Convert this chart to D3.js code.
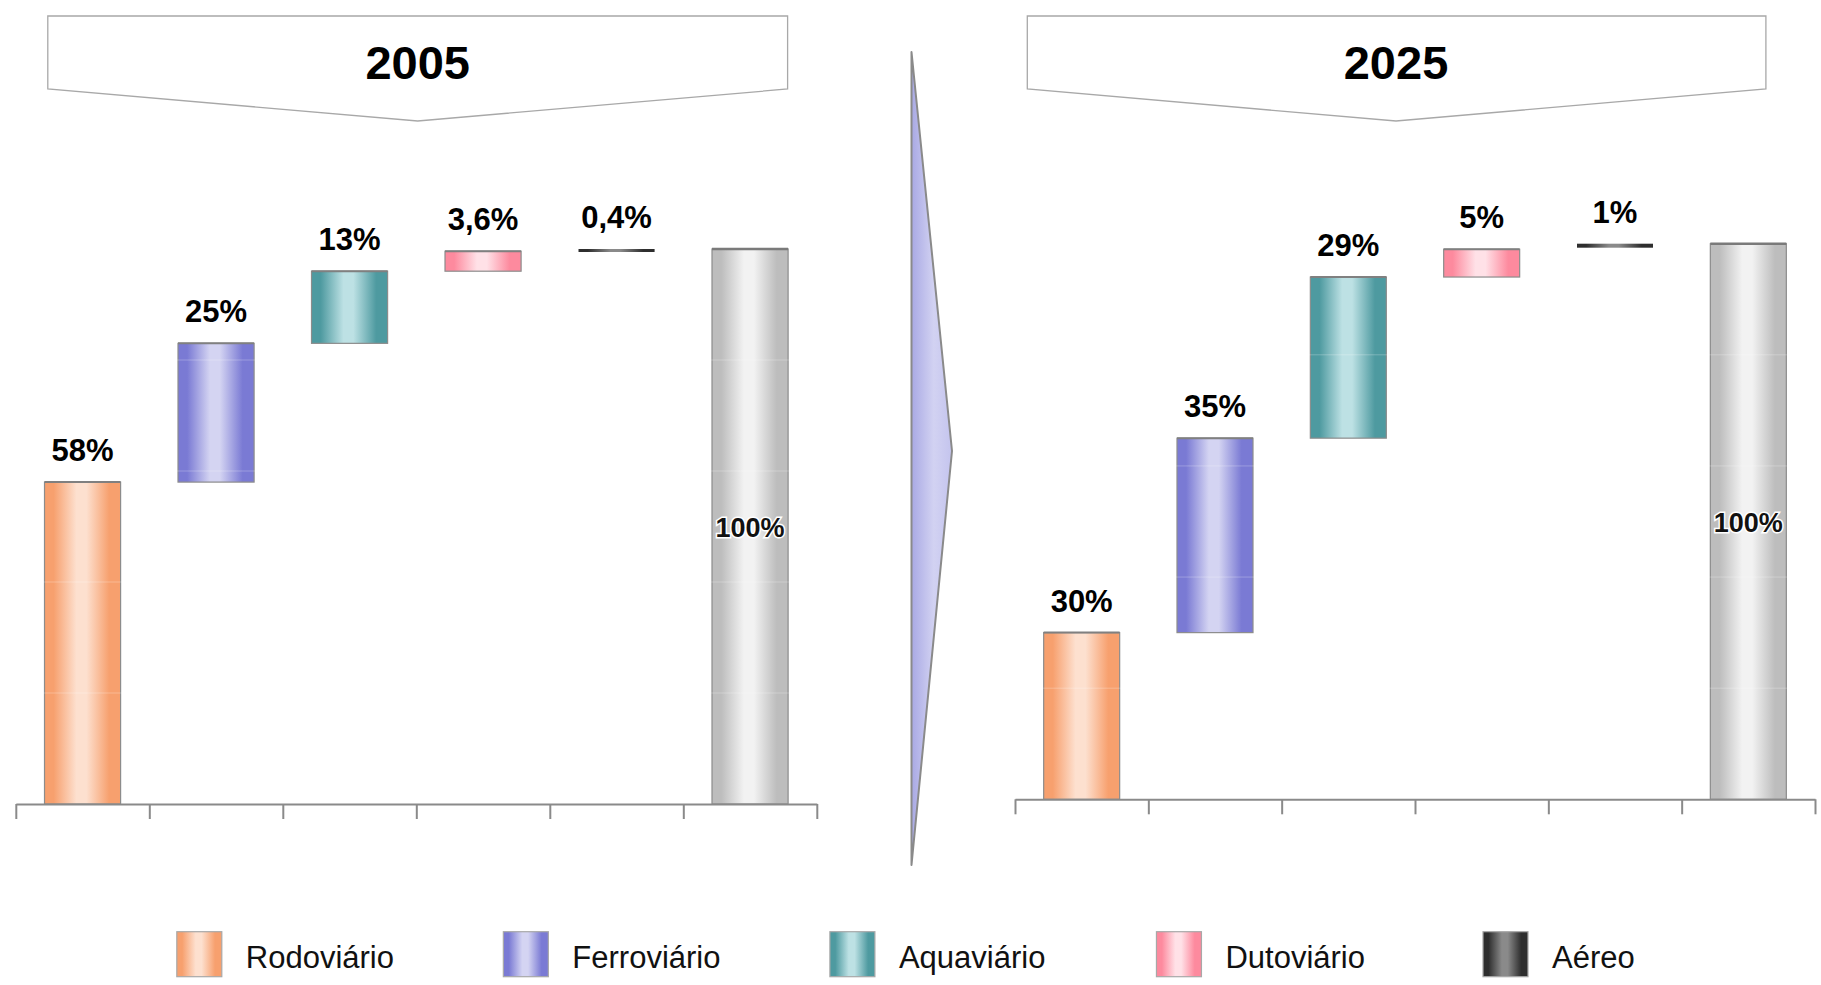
<!DOCTYPE html>
<html>
<head>
<meta charset="utf-8">
<script src="https://cdn.jsdelivr.net/npm/d3@7/dist/d3.min.js"></script>
<style>
  html, body { margin: 0; padding: 0; background: #fff; }
  svg { display: block; font-family: "Liberation Sans", Arial, sans-serif; }
</style>
</head>
<body>
<svg id="chart" width="1821" height="985"></svg>
<script>
// ---------------- data ----------------
const categories = ["Rodoviário", "Ferroviário", "Aquaviário", "Dutoviário", "Aéreo"];
const totalCategory = "Total";
const years = ["2005", "2025"];
const values2005 = [58, 25, 13, 3.6, 0.4];
const values2025 = [30, 35, 29, 5, 1];
const labels2005 = ["58%", "25%", "13%", "3,6%", "0,4%"];
const labels2025 = ["30%", "35%", "29%", "5%", "1%"];
const totalLabel = "100%";
const gridValues = [20, 40, 60, 80];

// colours (edge, centre) per category
const colorEdge = ["#f7a06e", "#7a7ad4", "#4e9aa0", "#fd8a9e", "#2e2e2e"];
const colorMid  = ["#fde0cf", "#d4d4f2", "#bde1e4", "#ffe1e7", "#8a8a8a"];
const totalEdge = "#bdbdbd", totalMid = "#f2f2f2";

// ---------------- layout ----------------
const svg = d3.select("#chart");
const defs = svg.append("defs");

function makeGrad(id, edge, mid) {
  const g = defs.append("linearGradient").attr("id", id)
    .attr("x1", "0%").attr("x2", "100%").attr("y1", "0%").attr("y2", "0%");
  [[0, edge], [0.12, edge], [0.42, mid], [0.55, mid], [0.85, edge], [1, edge]]
    .forEach(([o, c]) => g.append("stop").attr("offset", o).attr("stop-color", c));
}
categories.forEach((c, i) => makeGrad("g" + i, colorEdge[i], colorMid[i]));
makeGrad("gTotal", totalEdge, totalMid);
{
  const g = defs.append("linearGradient").attr("id", "gArrow")
    .attr("x1", "0%").attr("x2", "100%");
  g.append("stop").attr("offset", 0).attr("stop-color", "#a9a9e4");
  g.append("stop").attr("offset", 0.55).attr("stop-color", "#d2d2f2");
  g.append("stop").attr("offset", 1).attr("stop-color", "#c4c4ee");
}

const panels = [
  { year: years[0], values: values2005, labels: labels2005,
    x0: 15.8, x1: 816.8, yBase: 804, yTop: 249,
    box: { l: 47.8, r: 787.6, t: 16, s: 89, px: 417.7, py: 121 } },
  { year: years[1], values: values2025, labels: labels2025,
    x0: 1015, x1: 1815, yBase: 799.3, yTop: 243.7,
    box: { l: 1027.3, r: 1765.9, t: 16, s: 89, px: 1396, py: 121 } }
];

const allCats = categories.concat([totalCategory]);

panels.forEach(p => {
  const g = svg.append("g");
  // title box
  const b = p.box;
  g.append("path")
    .attr("d", `M${b.l},${b.t}L${b.r},${b.t}L${b.r},${b.s}L${b.px},${b.py}L${b.l},${b.s}Z`)
    .attr("fill", "#fff").attr("stroke", "#a8a8a8").attr("stroke-width", 1.3);
  g.append("text").attr("x", b.px).attr("y", 79)
    .attr("text-anchor", "middle").attr("font-size", 47).attr("font-weight", "bold")
    .attr("fill", "#000").text(p.year);

  const x = d3.scaleBand().domain(allCats).range([p.x0, p.x1])
    .paddingInner(0.43).paddingOuter(0.215);
  const y = d3.scaleLinear().domain([0, 100]).range([p.yBase, p.yTop]);

  // cumulative
  let cum = 0;
  const segs = p.values.map((v, i) => {
    const s = { i, cat: categories[i], lo: cum, hi: cum + v, label: p.labels[i] };
    cum += v; return s;
  });
  const total = cum;

  // total bar
  g.append("rect")
    .attr("x", x(totalCategory)).attr("width", x.bandwidth())
    .attr("y", y(total)).attr("height", y(0) - y(total))
    .attr("fill", "url(#gTotal)").attr("stroke", "#8c8c8c").attr("stroke-width", 1.2);
  g.append("line")
    .attr("x1", x(totalCategory)).attr("x2", x(totalCategory) + x.bandwidth())
    .attr("y1", y(total)).attr("y2", y(total))
    .attr("stroke", "#7a7a7a").attr("stroke-width", 2.5);

  // floating bars
  segs.forEach(s => {
    const isThin = (y(s.lo) - y(s.hi)) < 6;
    const h = Math.max(y(s.lo) - y(s.hi), 3);
    g.append("rect")
      .attr("x", x(s.cat)).attr("width", x.bandwidth())
      .attr("y", y(s.hi)).attr("height", isThin ? Math.min(h, 4) : h)
      .attr("fill", `url(#g${s.i})`)
      .attr("stroke", isThin ? "none" : "#8c8c8c").attr("stroke-width", 1.2);
    if (!isThin) {
      g.append("line")
        .attr("x1", x(s.cat)).attr("x2", x(s.cat) + x.bandwidth())
        .attr("y1", y(s.hi)).attr("y2", y(s.hi))
        .attr("stroke", "#808080").attr("stroke-width", 2);
    }
  });

  // faint gridlines (visible only over bars)
  g.selectAll(".grid").data(gridValues).enter().append("line")
    .attr("x1", p.x0).attr("x2", p.x1)
    .attr("y1", d => y(d)).attr("y2", d => y(d))
    .attr("stroke", "#fff").attr("stroke-opacity", 0.25).attr("stroke-width", 1);

  // value labels
  segs.forEach(s => {
    g.append("text")
      .attr("x", x(s.cat) + x.bandwidth() / 2)
      .attr("y", y(s.hi) - 21)
      .attr("text-anchor", "middle").attr("font-size", 31).attr("font-weight", "bold")
      .attr("fill", "#000").text(s.label);
  });
  g.append("text")
    .attr("x", x(totalCategory) + x.bandwidth() / 2)
    .attr("y", (y(0) + y(total)) / 2 + 10)
    .attr("text-anchor", "middle").attr("font-size", 27).attr("font-weight", "bold")
    .attr("fill", "#111").attr("stroke", "#fff").attr("stroke-width", 3)
    .attr("paint-order", "stroke").text(totalLabel);

  // axis
  const xt = d3.scaleLinear().domain([0, allCats.length]).range([p.x0, p.x1]);
  const axis = d3.axisBottom(xt).tickValues(d3.range(allCats.length + 1))
    .tickSize(15).tickSizeOuter(0).tickFormat("");
  const ax = g.append("g").attr("transform", `translate(0,${p.yBase})`).call(axis);
  ax.selectAll("path,line").attr("stroke", "#8a8a8a").attr("stroke-width", 2);
});

// middle arrow
svg.append("path")
  .attr("d", "M911.5,52L952,451L911.5,865Z")
  .attr("fill", "url(#gArrow)").attr("stroke", "#8a8a8a").attr("stroke-width", 2)
  .attr("stroke-linejoin", "round");

// legend
const legX = d3.scalePoint().domain(categories).range([176.8, 1483]);
const leg = svg.append("g");
categories.forEach((c, i) => {
  const lx = legX(c);
  leg.append("rect").attr("x", lx).attr("y", 931.7).attr("width", 45).attr("height", 45)
    .attr("fill", `url(#g${i})`).attr("stroke", "#a8a8a8").attr("stroke-width", 1.2);
  leg.append("text").attr("x", lx + 69).attr("y", 968)
    .attr("font-size", 31).attr("fill", "#111").text(c);
});
</script>
</body>
</html>
